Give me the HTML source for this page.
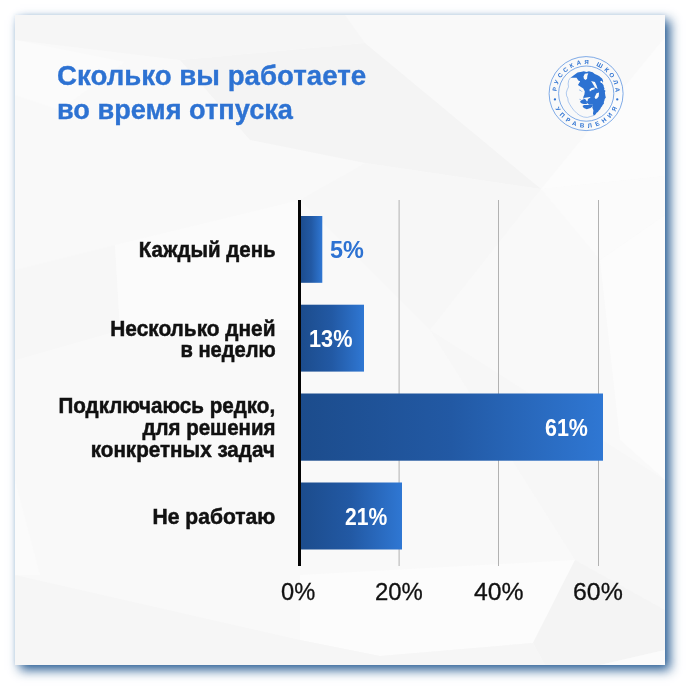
<!DOCTYPE html>
<html lang="ru">
<head>
<meta charset="utf-8">
<title>Сколько вы работаете во время отпуска</title>
<style>
html,body{margin:0;padding:0;background:#fff;}
body{width:690px;height:690px;position:relative;overflow:hidden;font-family:"Liberation Sans",sans-serif;}
#card{position:absolute;left:15px;top:15px;width:650px;height:650px;background:#f9f9f9;box-shadow:5px 5px 10.5px 0 rgba(26,82,140,.93), 0 0 4px 0 rgba(120,170,220,.2);overflow:hidden;}
#bg{position:absolute;left:0;top:0;width:650px;height:650px;}
.t{position:absolute;white-space:nowrap;line-height:1;transform-origin:0 0;}
.r{transform-origin:100% 0;text-align:right;}
.title{color:#2d72d2;font-weight:bold;font-size:27px;-webkit-text-stroke:0.35px #2d72d2;}
.lab{color:#111;font-weight:bold;font-size:21.5px;-webkit-text-stroke:0.5px #111;}
.val{font-weight:bold;font-size:24px;color:#fff;}
.ax{font-size:24px;color:#111;-webkit-text-stroke:0.3px #111;}
</style>
</head>
<body>
<div id="card">
<svg id="bg" viewBox="0 0 650 650">
<polygon fill="#f4f4f4" points="350,28 526,174 350,148 235,125 165,45"/>
<polygon fill="#f6f6f6" points="0,0 330,0 350,28 165,45 0,25"/>
<polygon fill="#fbfbfb" points="0,25 110,47 45,95 0,80"/>
<polygon fill="#fcfcfc" points="526,174 650,22 650,161"/>
<polygon fill="#fbfbfb" points="526,174 650,161 650,200 585,245"/>
<polygon fill="#f7f7f7" points="350,148 526,174 415,315 285,185"/>
<polygon fill="#f7f7f7" points="0,255 100,230 105,315 0,345"/>
<polygon fill="#fbfbfb" points="100,230 285,185 285,315 105,315"/>
<polygon fill="#fbfbfb" points="0,465 25,560 0,560"/>
<polygon fill="#f7f7f7" points="415,315 650,465 650,595 560,545"/>
<polygon fill="#fcfcfc" points="585,245 650,200 650,465 605,425"/>
<polygon fill="#fcfcfc" points="285,560 560,545 518,628 365,641 285,625"/>
<polygon fill="#f4f4f4" points="518,628 560,545 650,595 650,635 585,650 530,650"/>
<polygon fill="#f6f6f6" points="0,560 285,625 365,641 518,628 530,650 0,650"/>
<polygon fill="#fbfbfb" points="585,650 650,635 650,650"/>
</svg>
</div>


<svg id="chart" width="690" height="690" viewBox="0 0 690 690" style="position:absolute;left:0;top:0">
<defs>
<linearGradient id="bg1" x1="0" y1="0" x2="1" y2="0">
<stop offset="0" stop-color="#1c4c8c"/><stop offset="0.5" stop-color="#2259a4"/><stop offset="1" stop-color="#2f77d3"/>
</linearGradient>
</defs>
<rect x="398.6" y="200" width="1" height="366" fill="#b2b2b2"/>
<rect x="498" y="200" width="1" height="366" fill="#b2b2b2"/>
<rect x="598" y="200" width="1" height="366" fill="#b2b2b2"/>
<rect x="300" y="216" width="22.3" height="66.8" fill="url(#bg1)"/>
<rect x="300" y="304.7" width="64" height="66.9" fill="url(#bg1)"/>
<rect x="300" y="393.5" width="303" height="67.2" fill="url(#bg1)"/>
<rect x="300" y="482.5" width="102" height="67" fill="url(#bg1)"/>
<rect x="298" y="200" width="3" height="366" fill="#050505"/>
</svg>

<svg id="logo" width="690" height="690" viewBox="0 0 690 690" style="position:absolute;left:0;top:0;pointer-events:none">
<defs>
<path id="arcTop" d="M 564.04 113.19 A 29.5 29.5 0 1 1 605.69 115.66"/>
<path id="arcBot" d="M 560.36 71.23 A 34.1 34.1 0 1 0 608.47 67.86"/>
</defs>
<circle cx="586.1" cy="93.6" r="37" fill="none" stroke="#4a88de" stroke-width="0.7"/>
<circle cx="586.2" cy="93.6" r="27.6" fill="none" stroke="#4a88de" stroke-width="0.7"/>
<g font-family="'Liberation Sans',sans-serif" font-weight="bold" font-size="6.1" fill="#2d72d2">
<text letter-spacing="2.9"><textPath id="tpTop" href="#arcTop" startOffset="50%" text-anchor="middle">РУССКАЯ ШКОЛА</textPath></text>
<text letter-spacing="3.93"><textPath id="tpBot" href="#arcBot" startOffset="50%" text-anchor="middle">УПРАВЛЕНИЯ</textPath></text>
</g>
<circle cx="554.93" cy="99.38" r="1.15" fill="#2d72d2"/>
<circle cx="617.27" cy="99.38" r="1.15" fill="#2d72d2"/>
<g transform="translate(564 68) scale(0.075415)">
<polyline points="85,130 62,165 55,210 60,250 42,290 30,330 35,370 50,400 55,440 75,480 100,520 130,560 170,600 210,630 260,650 310,655 355,642 395,630" fill="none" stroke="#6c9ee4" stroke-width="7" stroke-linejoin="round"/>
<polyline points="200,290 225,300 240,316" fill="none" stroke="#5a92e0" stroke-width="8"/>
<polyline points="203,414 226,420" fill="none" stroke="#5a92e0" stroke-width="7"/>
<polygon fill="#2d72d2" points="85,130 130,95 180,60 235,50 262,42 300,52 330,42 380,55 408,80 440,92 470,110 488,125 505,140 515,160 520,182 503,200 525,230 528,252 537,272 532,288 550,302 542,325 546,350 549,370 555,392 540,412 536,432 528,450 530,472 512,490 505,508 490,525 480,547 462,562 450,582 432,595 420,612 395,632 384,602 390,562 375,522 386,492 378,488 330,486 318,470 300,462 290,440 262,418 255,388 270,350 276,312 256,272 215,246 185,226 215,176 190,166 166,130 120,128"/>
<polygon fill="#2d72d2" points="214,440 235,424 262,416 290,428 300,440 302,462 312,474 290,478 262,476 236,470 218,458"/>
<polygon fill="#2d72d2" points="245,505 265,492 330,490 378,490 386,498 378,506 352,530 302,546 262,532"/>
<polygon fill="#fafafa" points="258,112 276,76 322,70 310,104 306,142 286,160 264,142"/>
<polygon fill="#fafafa" points="360,174 410,186 430,230 446,278 412,258 386,216"/>
<polygon fill="#fafafa" points="336,290 362,266 410,258 404,283 366,294 344,310"/>
<polygon fill="#fafafa" points="405,388 432,336 465,326 460,378 438,404 418,410"/>
<polygon fill="#fafafa" points="480,176 505,170 511,200 490,200"/>
<polygon fill="#fafafa" points="258,398 345,383 352,392 318,412 312,440 300,440 290,420 268,408"/>
</g>
</svg>
<!--TXT-->
<div class="t title" id="t1" style="left:56.63px;top:63px;transform:translateY(0.00px) scaleX(1.0246);">Сколько вы работаете</div>
<div class="t title" id="t2" style="left:56.72px;top:97px;transform:translateY(0.00px) scaleX(1.0065);">во время отпуска</div>
<div class="t lab r" id="l1" style="right:414.14px;top:240px;transform:translateY(0.00px) scaleX(0.9524);">Каждый день</div>
<div class="t lab r" id="l2a" style="right:414.83px;top:319px;transform:translateY(0.00px) scaleX(0.9690);">Несколько дней</div>
<div class="t lab r" id="l2b" style="right:414.64px;top:340px;transform:translateY(0.00px) scaleX(0.9369);">в неделю</div>
<div class="t lab r" id="l3a" style="right:414.58px;top:396px;transform:translateY(0.00px) scaleX(0.9583);">Подключаюсь редко,</div>
<div class="t lab r" id="l3b" style="right:414.75px;top:418px;transform:translateY(0.00px) scaleX(0.9534);">для решения</div>
<div class="t lab r" id="l3c" style="right:414.74px;top:440px;transform:translateY(0.00px) scaleX(0.9597);">конкретных задач</div>
<div class="t lab r" id="l4" style="right:414.35px;top:507px;transform:translateY(0.00px) scaleX(0.9797);">Не работаю</div>
<div class="t val" id="v1" style="left:330.21px;top:238px;transform:translateY(0.00px) scaleX(0.9767);color:#2d72d2">5%</div>
<div class="t val" id="v2" style="left:309.40px;top:327px;transform:translateY(0.00px) scaleX(0.9038);">13%</div>
<div class="t val" id="v3" style="left:545.07px;top:416px;transform:translateY(0.00px) scaleX(0.8938);">61%</div>
<div class="t val" id="v4" style="left:344.58px;top:505px;transform:translateY(0.00px) scaleX(0.8793);">21%</div>
<div class="t ax" id="a0" style="left:281.08px;top:580px;transform:translateY(0.00px) scaleX(0.9850);">0%</div>
<div class="t ax" id="a1" style="left:374.72px;top:580px;transform:translateY(0.00px) scaleX(0.9962);">20%</div>
<div class="t ax" id="a2" style="left:473.74px;top:580px;transform:translateY(0.00px) scaleX(1.0324);">40%</div>
<div class="t ax" id="a3" style="left:572.88px;top:580px;transform:translateY(0.00px) scaleX(1.0375);">60%</div>
<!--/TXT-->

</body>
</html>
